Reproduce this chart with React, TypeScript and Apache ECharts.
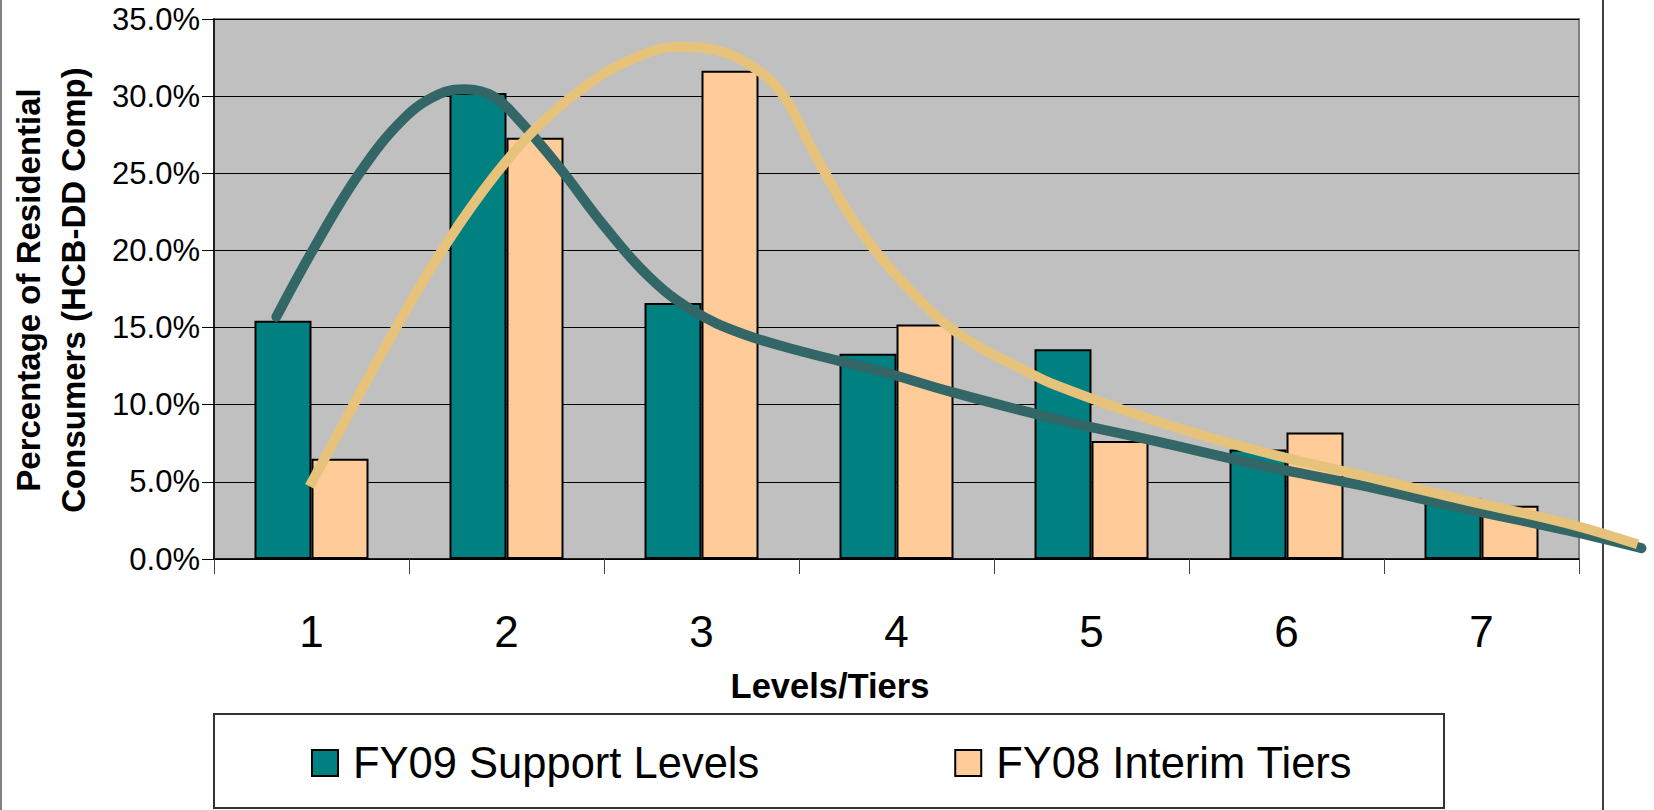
import React, { useEffect, useRef } from "react";
import * as echarts from "echarts";

const categories = ["1", "2", "3", "4", "5", "6", "7"];
const fy09Values = [15.45, 30.2, 16.6, 13.3, 13.6, 7.1, 3.9];
const fy08Values = [6.5, 27.3, 31.65, 15.2, 7.65, 8.2, 3.45];

// Trend curves (x in category units: 1..7, y in percent)
const fy09TrendX = [0.82, 1.01, 1.24, 1.47, 1.65, 1.79, 1.93, 2.06, 2.27, 2.5, 2.73, 2.955, 3.21, 3.53, 3.91, 4.29, 4.81, 5.34, 5.86, 6.39, 6.92, 7.44, 7.82];
const fy09TrendY = [15.7, 20.1, 24.9, 28.5, 30.1, 30.45, 30.0, 28.5, 25.4, 21.6, 18.3, 16.1, 14.6, 13.4, 12.2, 10.8, 9.1, 7.6, 6.1, 4.75, 3.25, 1.85, 0.7];
const fy08TrendX = [0.99, 1.24, 1.47, 1.7, 1.93, 2.15, 2.38, 2.61, 2.89, 3.07, 3.25, 3.41, 3.57, 3.745, 3.89, 4.086, 4.257, 4.43, 4.63, 4.81, 5.34, 5.86, 6.39, 6.92, 7.44, 7.8];
const fy08TrendY = [4.7, 10.55, 15.8, 20.6, 24.7, 27.9, 30.4, 32.2, 33.2, 33.0, 32.0, 30.2, 26.5, 22.6, 20.0, 17.2, 15.17, 13.7, 12.4, 11.3, 8.9, 7.0, 5.4, 3.8, 2.3, 0.95];

const seriesNames = ["FY09 Support Levels", "FY08 Interim Tiers"];
const xTitle = "Levels/Tiers";
const yTitle = "Percentage of Residential\nConsumers (HCB-DD Comp)";

const FONT = "Liberation Sans, Arial, sans-serif";

export default function App() {
  const ref = useRef<HTMLDivElement>(null);
  useEffect(() => {
    if (!ref.current) return;
    const chart = echarts.init(ref.current, null, { renderer: "svg" });
    const zip = (xs: number[], ys: number[]) => xs.map((x, i) => [x, ys[i]]);
    const catWidth = 1365 / 7;
    const trendMax = 7.85;
    chart.setOption({
      animation: false,
      backgroundColor: "#ffffff",
      grid: [
        {
          left: 214,
          top: 19,
          width: 1365,
          height: 540,
          show: true,
          backgroundColor: "#C0C0C0",
          borderColor: "#808080",
          borderWidth: 2,
        },
        {
          left: 214,
          top: 19,
          width: catWidth * (trendMax - 0.5),
          height: 540,
          show: false,
        },
      ],
      xAxis: [
        {
          type: "category",
          gridIndex: 0,
          data: categories,
          boundaryGap: true,
          axisLine: { show: true, lineStyle: { color: "#000", width: 1.5 } },
          axisTick: { show: true, length: 15, lineStyle: { color: "#444" } },
          axisLabel: { fontFamily: FONT, fontSize: 44, color: "#000", margin: 50 },
          splitLine: { show: false },
        },
        {
          type: "value",
          gridIndex: 1,
          min: 0.5,
          max: trendMax,
          show: false,
        },
      ],
      yAxis: [
        {
          type: "value",
          gridIndex: 0,
          min: 0,
          max: 35,
          interval: 5,
          axisLine: { show: true, lineStyle: { color: "#000", width: 1.5 } },
          axisTick: { show: true, length: 12, lineStyle: { color: "#000" } },
          axisLabel: {
            fontFamily: FONT,
            fontSize: 31,
            color: "#000",
            margin: 14,
            formatter: (v: number) => v.toFixed(1) + "%",
          },
          splitLine: { show: true, lineStyle: { color: "#000", width: 1 } },
        },
        {
          type: "value",
          gridIndex: 1,
          min: 0,
          max: 35,
          interval: 5,
          show: false,
        },
      ],
      legend: {
        data: seriesNames,
        left: 311,
        top: 741,
        padding: 0,
        icon: "rect",
        itemWidth: 26,
        itemHeight: 26,
        itemGap: 195,
        textStyle: { fontFamily: FONT, fontSize: 43.5, color: "#000", padding: [0, 0, 0, 10] },
      },
      series: [
        {
          name: seriesNames[0],
          type: "bar",
          xAxisIndex: 0,
          yAxisIndex: 0,
          data: fy09Values,
          barWidth: 57,
          barGap: "0%",
          itemStyle: { color: "#008080", borderColor: "#000", borderWidth: 2 },
          z: 2,
        },
        {
          name: seriesNames[1],
          type: "bar",
          xAxisIndex: 0,
          yAxisIndex: 0,
          data: fy08Values,
          barWidth: 57,
          barGap: "0%",
          itemStyle: { color: "#FFCC99", borderColor: "#000", borderWidth: 2 },
          z: 2,
        },
        {
          name: "fy09trend",
          type: "line",
          xAxisIndex: 1,
          yAxisIndex: 1,
          data: zip(fy09TrendX, fy09TrendY),
          smooth: 0.4,
          symbol: "none",
          clip: false,
          lineStyle: { color: "#336666", width: 10, cap: "round" },
          z: 3,
        },
        {
          name: "fy08trend",
          type: "line",
          xAxisIndex: 1,
          yAxisIndex: 1,
          data: zip(fy08TrendX, fy08TrendY),
          smooth: 0.4,
          symbol: "none",
          clip: false,
          lineStyle: { color: "#E6C27A", width: 10, cap: "butt" },
          z: 4,
        },
      ],
      graphic: [
        {
          type: "text",
          x: 830,
          y: 686,
          style: {
            text: xTitle,
            fontFamily: FONT,
            fontSize: 34.5,
            fontWeight: "bold",
            fill: "#000",
            textAlign: "center",
            textVerticalAlign: "middle",
          },
        },
        {
          type: "text",
          x: 51,
          y: 290,
          rotation: Math.PI / 2,
          style: {
            text: yTitle,
            fontFamily: FONT,
            fontSize: 33,
            fontWeight: "bold",
            lineHeight: 45,
            fill: "#000",
            textAlign: "center",
            textVerticalAlign: "middle",
          },
        },
        {
          type: "rect",
          shape: { x: 214, y: 714, width: 1230, height: 94 },
          style: { fill: "none", stroke: "#333", lineWidth: 2 },
          z: -1,
        },
        {
          type: "line",
          shape: { x1: 1603, y1: 0, x2: 1603, y2: 810 },
          style: { stroke: "#000", lineWidth: 1.5 },
        },
        {
          type: "line",
          shape: { x1: 1, y1: 0, x2: 1, y2: 810 },
          style: { stroke: "#808080", lineWidth: 2 },
        },
      ],
    });
    return () => chart.dispose();
  }, []);
  return (
    <div
      ref={ref}
      style={{ position: "absolute", left: 0, top: 0, width: 1654, height: 810 }}
    />
  );
}
